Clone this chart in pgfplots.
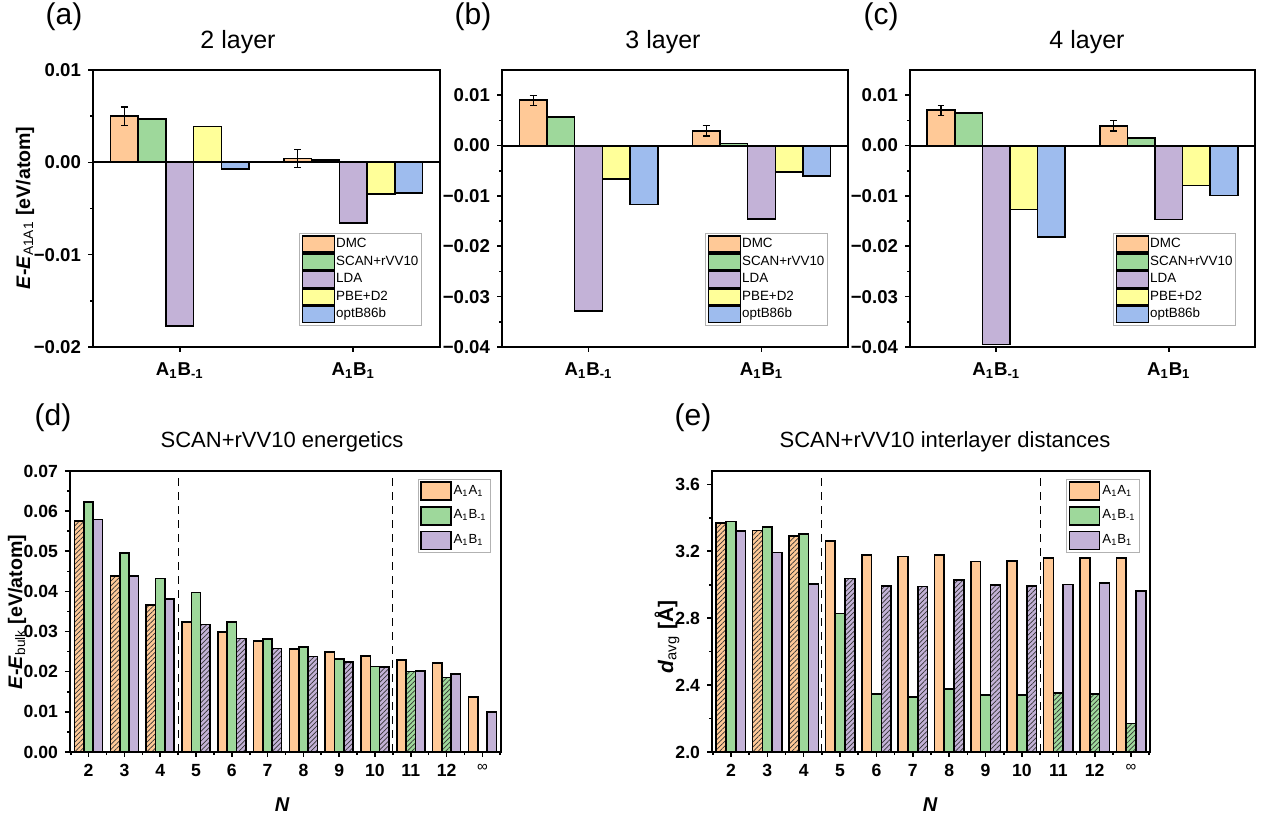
\documentclass[border=0pt]{standalone}
\usepackage{fontspec}
\setmainfont{Liberation Sans}
\usepackage{pgfplots}
\pgfplotsset{compat=1.18}
\usetikzlibrary{patterns.meta}

\definecolor{orangeC}{RGB}{255,201,151}
\definecolor{greenC}{RGB}{158,216,155}
\definecolor{purpleC}{RGB}{195,178,215}
\definecolor{yellowC}{RGB}{255,255,153}
\definecolor{blueC}{RGB}{158,188,238}

\pgfplotsset{
  base/.style={
    scale only axis, anchor=south west,
    axis line style={line width=1pt},
    tick align=outside, xtick pos=bottom, ytick pos=left,
    major tick length=2.5pt, minor tick length=1.5pt,
    every tick/.style={black, line width=0.8pt},
    scaled y ticks=false,
    tick label style={font=\bfseries\fontsize{9.3}{11}\selectfont},
    /pgf/number format/assume math mode=true,
    legend cell align=left,
  },
  bar/.style={ybar, draw=black, line width=0.8pt},
  hatch/.style={postaction={pattern={Lines[angle=45,distance=1.7pt,line width=0.35pt]}, pattern color=black!80}},
  top/.style={base,
    xmin=0.5, xmax=2.5, xtick={1,2},
    xticklabels={A\textsubscript{1}B\textsubscript{-1}, A\textsubscript{1}B\textsubscript{1}},
    xticklabel style={yshift=-2pt},
    minor y tick num=1, bar width=0.16,
    legend style={anchor=south east, draw=gray!60, line width=0.5pt, fill=white,
      font=\fontsize{6.7}{7.5}\selectfont, inner sep=1pt, row sep=0pt,
      nodes={inner sep=0.5pt}},
    legend image code/.code={\draw[#1, draw=black, line width=0.8pt] (0pt,-4pt) rectangle (16pt,4pt);},
  },
  bottom/.style={base,
    xmin=-0.52, xmax=11.52, xtick={0,...,11},
    xticklabels={2,3,4,5,6,7,8,9,10,11,12,{\mdseries\fontsize{7.5}{8}\selectfont ∞}},
    minor xtick={-0.5,0.5,...,11.5},
    minor y tick num=1,
    tick label style={font=\bfseries\fontsize{8.8}{10}\selectfont},
    legend style={at={(0.977,0.972)}, anchor=north east, draw=gray!60, line width=0.5pt, fill=white,
      font=\fontsize{6.6}{7.5}\selectfont, inner sep=1pt, row sep=2.5pt,
      nodes={inner sep=1pt}},
    legend image code/.code={\draw[#1, draw=black, line width=0.8pt] (0pt,-4.5pt) rectangle (15pt,4.5pt);},
  },
  dmc/.style={bar, fill=orangeC, bar shift=0,
    error bars/.cd, y dir=both, y explicit,
    error bar style={line width=0.6pt, black},
    error mark options={rotate=90, mark size=1.7pt, line width=0.6pt, black}},
}

\begin{document}
\begin{tikzpicture}
\useasboundingbox (0,0) rectangle (633pt,408.5pt);

% ---------- (a) 2 layer
\begin{axis}[top, at={(46.5pt,235pt)}, width=173.5pt, height=138.5pt,
  ymin=-0.02, ymax=0.01, ytick={-0.02,-0.01,0,0.01},
  yticklabels={−0.02,−0.01,0.00,0.01},
  legend style={at={(0.948,0.076)}}]
\addplot[dmc] coordinates {(0.68,0.0050) +- (0,0.001) (1.68,0.0004) +- (0,0.001)};
\addplot[bar, fill=greenC, bar shift=-0.16] coordinates {(1,0.0047) (2,0.00025)};
\addplot[bar, fill=purpleC, bar shift=0] coordinates {(1,-0.0177) (2,-0.0066)};
\addplot[bar, fill=yellowC, bar shift=0.16] coordinates {(1,0.0039) (2,-0.0034)};
\addplot[bar, fill=blueC, bar shift=0.32] coordinates {(1,-0.0007) (2,-0.0033)};
\draw[line width=1pt] (axis cs:0.5,0) -- (axis cs:2.5,0);
\legend{DMC,SCAN+rVV10,LDA,PBE+D2,optB86b}
\end{axis}

% ---------- (b) 3 layer
\begin{axis}[top, at={(251pt,235pt)}, width=173pt, height=138.5pt,
  ymin=-0.04, ymax=0.015, ytick={-0.04,-0.03,-0.02,-0.01,0,0.01},
  yticklabels={−0.04,−0.03,−0.02,−0.01,0.00,0.01},
  legend style={at={(0.942,0.076)}}]
\addplot[dmc] coordinates {(0.68,0.0090) +- (0,0.001) (1.68,0.0029) +- (0,0.001)};
\addplot[bar, fill=greenC, bar shift=-0.16] coordinates {(1,0.0057) (2,0.0004)};
\addplot[bar, fill=purpleC, bar shift=0] coordinates {(1,-0.0328) (2,-0.0146)};
\addplot[bar, fill=yellowC, bar shift=0.16] coordinates {(1,-0.0067) (2,-0.0053)};
\addplot[bar, fill=blueC, bar shift=0.32] coordinates {(1,-0.0117) (2,-0.0060)};
\draw[line width=1pt] (axis cs:0.5,0) -- (axis cs:2.5,0);
\legend{DMC,SCAN+rVV10,LDA,PBE+D2,optB86b}
\end{axis}

% ---------- (c) 4 layer
\begin{axis}[top, at={(455pt,235pt)}, width=172.5pt, height=138.5pt,
  ymin=-0.04, ymax=0.015, ytick={-0.04,-0.03,-0.02,-0.01,0,0.01},
  yticklabels={−0.04,−0.03,−0.02,−0.01,0.00,0.01},
  legend style={at={(0.945,0.076)}}]
\addplot[dmc] coordinates {(0.68,0.0070) +- (0,0.001) (1.68,0.0039) +- (0,0.001)};
\addplot[bar, fill=greenC, bar shift=-0.16] coordinates {(1,0.0065) (2,0.0015)};
\addplot[bar, fill=purpleC, bar shift=0] coordinates {(1,-0.0395) (2,-0.0147)};
\addplot[bar, fill=yellowC, bar shift=0.16] coordinates {(1,-0.0127) (2,-0.0079)};
\addplot[bar, fill=blueC, bar shift=0.32] coordinates {(1,-0.0182) (2,-0.0099)};
\draw[line width=1pt] (axis cs:0.5,0) -- (axis cs:2.5,0);
\legend{DMC,SCAN+rVV10,LDA,PBE+D2,optB86b}
\end{axis}

% ---------- (d) energetics
\begin{axis}[bottom, at={(35pt,32.5pt)}, width=215.5pt, height=140.5pt,
  ymin=0, ymax=0.07, ytick={0,0.01,...,0.07},
  yticklabels={0.00,0.01,0.02,0.03,0.04,0.05,0.06,0.07}, bar width=0.26]
\addplot[bar, fill=orangeC, bar shift=-0.26] coordinates {(3,0.0324) (4,0.0299) (5,0.0276) (6,0.0257) (7,0.0249) (8,0.0239) (9,0.0229) (10,0.0221) (11,0.0137)};
\addplot[bar, fill=greenC, bar shift=0] coordinates {(0,0.0623) (1,0.0495) (2,0.0432) (3,0.0397) (4,0.0324) (5,0.0281) (6,0.0261) (7,0.0232) (8,0.0213)};
\addplot[bar, fill=purpleC, bar shift=0.26] coordinates {(0,0.0579) (1,0.0439) (2,0.0381) (9,0.0202) (10,0.0194) (11,0.0100)};
\addplot[bar, fill=orangeC, bar shift=-0.26, hatch, forget plot] coordinates {(0,0.0576) (1,0.0439) (2,0.0366)};
\addplot[bar, fill=greenC, bar shift=0, hatch, forget plot] coordinates {(9,0.0200) (10,0.0186)};
\addplot[bar, fill=purpleC, bar shift=0.26, hatch, forget plot] coordinates {(3,0.0318) (4,0.0283) (5,0.0258) (6,0.0238) (7,0.0224) (8,0.0211)};
\draw[line width=0.6pt, dash pattern=on 4pt off 3pt] (axis cs:2.5,0) -- (axis cs:2.5,0.07);
\draw[line width=0.6pt, dash pattern=on 4pt off 3pt] (axis cs:8.5,0) -- (axis cs:8.5,0.07);
\legend{A\textsubscript{1}A\textsubscript{1}, A\textsubscript{1}B\textsubscript{-1}, A\textsubscript{1}B\textsubscript{1}}
\end{axis}

% ---------- (e) interlayer distances
\begin{axis}[bottom, at={(356pt,32.5pt)}, width=219pt, height=140.5pt,
  ymin=2.0, ymax=3.68, ytick={2.0,2.4,2.8,3.2,3.6},
  yticklabels={2.0,2.4,2.8,3.2,3.6}, bar width=0.27]
\addplot[bar, fill=orangeC, bar shift=-0.27] coordinates {(3,3.263) (4,3.178) (5,3.168) (6,3.178) (7,3.138) (8,3.142) (9,3.158) (10,3.158) (11,3.160)};
\addplot[bar, fill=greenC, bar shift=0] coordinates {(0,3.378) (1,3.344) (2,3.303) (3,2.827) (4,2.345) (5,2.329) (6,2.377) (7,2.341) (8,2.341)};
\addplot[bar, fill=purpleC, bar shift=0.27] coordinates {(0,3.320) (1,3.192) (2,3.003) (9,3.001) (10,3.009) (11,2.962)};
\addplot[bar, fill=orangeC, bar shift=-0.27, hatch, forget plot] coordinates {(0,3.368) (1,3.324) (2,3.293)};
\addplot[bar, fill=greenC, bar shift=0, hatch, forget plot] coordinates {(9,2.351) (10,2.347) (11,2.171)};
\addplot[bar, fill=purpleC, bar shift=0.27, hatch, forget plot] coordinates {(3,3.037) (4,2.993) (5,2.989) (6,3.027) (7,2.997) (8,2.993)};
\draw[line width=0.6pt, dash pattern=on 4pt off 3pt] (axis cs:2.5,2.0) -- (axis cs:2.5,3.68);
\draw[line width=0.6pt, dash pattern=on 4pt off 3pt] (axis cs:8.5,2.0) -- (axis cs:8.5,3.68);
\legend{A\textsubscript{1}A\textsubscript{1}, A\textsubscript{1}B\textsubscript{-1}, A\textsubscript{1}B\textsubscript{1}}
\end{axis}

% ---------- titles, panel letters, axis labels
\node[font=\fontsize{15}{18}\selectfont] at (32pt,400pt) {(a)};
\node[font=\fontsize{15}{18}\selectfont] at (236.5pt,400pt) {(b)};
\node[font=\fontsize{15}{18}\selectfont] at (440.5pt,400pt) {(c)};
\node[font=\fontsize{15}{18}\selectfont] at (26.5pt,199.5pt) {(d)};
\node[font=\fontsize{15}{18}\selectfont] at (346.5pt,199.5pt) {(e)};

\node[font=\fontsize{12.5}{15}\selectfont] at (119pt,387.5pt) {2 layer};
\node[font=\fontsize{12.5}{15}\selectfont] at (331.5pt,387.5pt) {3 layer};
\node[font=\fontsize{12.5}{15}\selectfont] at (543.5pt,387.5pt) {4 layer};
\node[font=\fontsize{11}{13}\selectfont] at (141pt,187.5pt) {SCAN+rVV10 energetics};
\node[font=\fontsize{11}{13}\selectfont] at (472.5pt,187.5pt) {SCAN+rVV10 interlayer distances};

\node[rotate=90, font=\bfseries\fontsize{9.8}{12}\selectfont] at (12.5pt,304.5pt)
  {\textit{E}-\textit{E}\textsubscript{\mdseries A1A1} [eV/atom]};
\node[rotate=90, font=\bfseries\fontsize{9.8}{12}\selectfont] at (8.5pt,102.5pt)
  {\textit{E}-\textit{E}\textsubscript{\mdseries bulk} [eV/atom]};
\node[rotate=90, font=\bfseries\fontsize{10.5}{12}\selectfont] at (333.5pt,90pt)
  {\textit{d}\textsubscript{\mdseries avg} [Å]};
\node[font=\bfseries\itshape\fontsize{10}{12}\selectfont] at (141pt,6pt) {N};
\node[font=\bfseries\itshape\fontsize{10}{12}\selectfont] at (465pt,6pt) {N};
\end{tikzpicture}
\end{document}
